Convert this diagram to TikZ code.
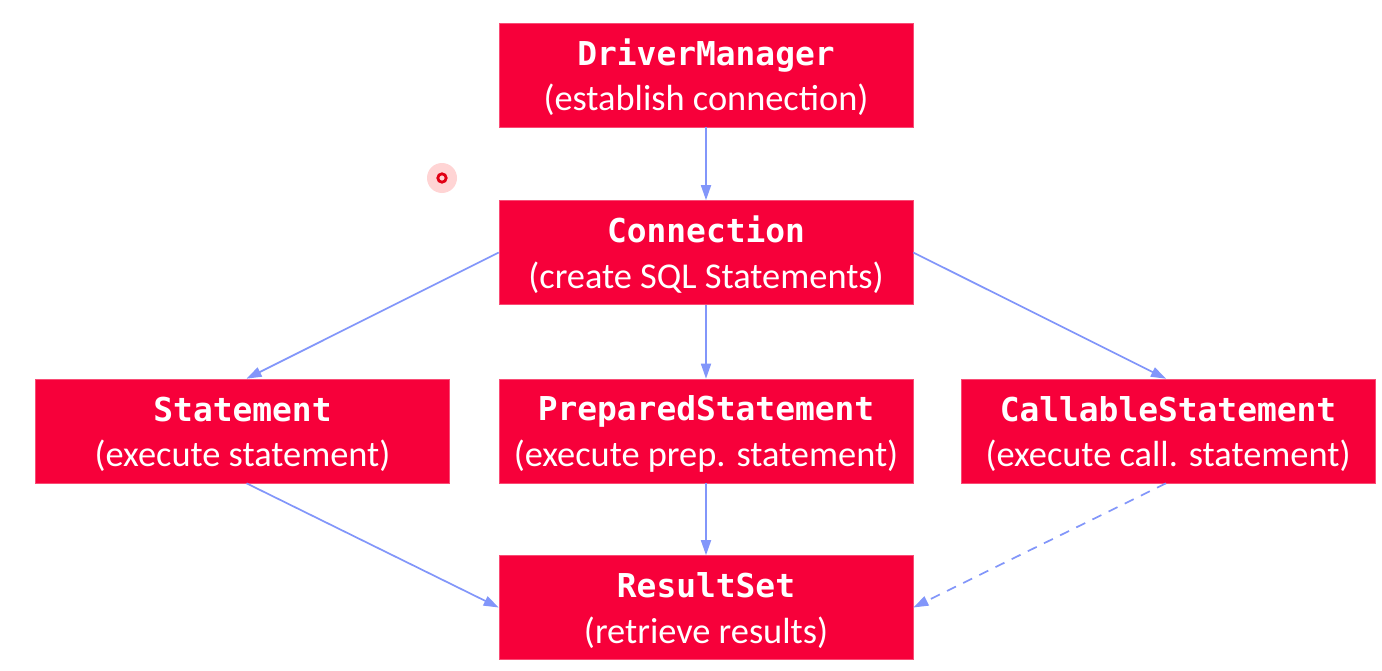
\documentclass[tikz,border=0pt]{standalone}
\usepackage{fontspec}
\setmainfont{Carlito}
\newfontfamily\titlefont{DejaVu Sans Mono}
\usetikzlibrary{arrows.meta}
\definecolor{boxred}{RGB}{247,0,58}
\definecolor{edgeblue}{RGB}{130,150,250}
\definecolor{glow}{RGB}{255,212,212}
\definecolor{ring}{RGB}{225,0,20}
\tikzset{
  x=1bp, y=-1bp,
  box/.style={fill=boxred, draw=boxred!70!white, line width=0.6bp, minimum width=414bp, minimum height=104bp,
    inner sep=0pt, align=center, text=white, font=\fontsize{36.5}{46}\selectfont},
  conn/.style={draw=edgeblue, line width=1.7bp, -{Triangle[length=15bp,width=10bp]}},
}
\newcommand{\ttl}[1]{\rule{0pt}{31bp}{\titlefont\bfseries\fontsize{33}{46}\selectfont #1}}
\begin{document}
\begin{tikzpicture}
\useasboundingbox (0,0) rectangle (1382,671);
\fill[white] (0,0) rectangle (1382,671);
\node[box] (dm) at (706,75) {\ttl{DriverManager}\\(establish connection)};
\node[box] (cn) at (706,252.5) {\ttl{Connection}\\(create SQL Statements)};
\node[box] (st) at (242.5,431) {\ttl{Statement}\\(execute statement)};
\node[box] (ps) at (706,431) {\ttl{PreparedStatement}\\(execute prep. statement)};
\node[box] (cs) at (1168,431) {\ttl{CallableStatement}\\(execute call. statement)};
\node[box] (rs) at (706,607.5) {\ttl{ResultSet}\\(retrieve results)};
\draw[conn] (dm.south) -- (cn.north);
\draw[conn] (cn.south) -- (ps.north);
\draw[conn] (ps.south) -- (rs.north);
\draw[conn] (cn.west) -- ([xshift=4bp]st.north);
\draw[conn] (cn.east) -- ([xshift=-2bp]cs.north);
\draw[conn] ([xshift=4bp]st.south) -- (rs.west);
\draw[conn, dashed, dash pattern=on 10bp off 8bp] ([xshift=-2bp]cs.south) -- (rs.east);
\fill[glow] (442,178) circle (15);
\draw[ring, line width=2.8bp] (442,178) circle (4.2);
\end{tikzpicture}
\end{document}
